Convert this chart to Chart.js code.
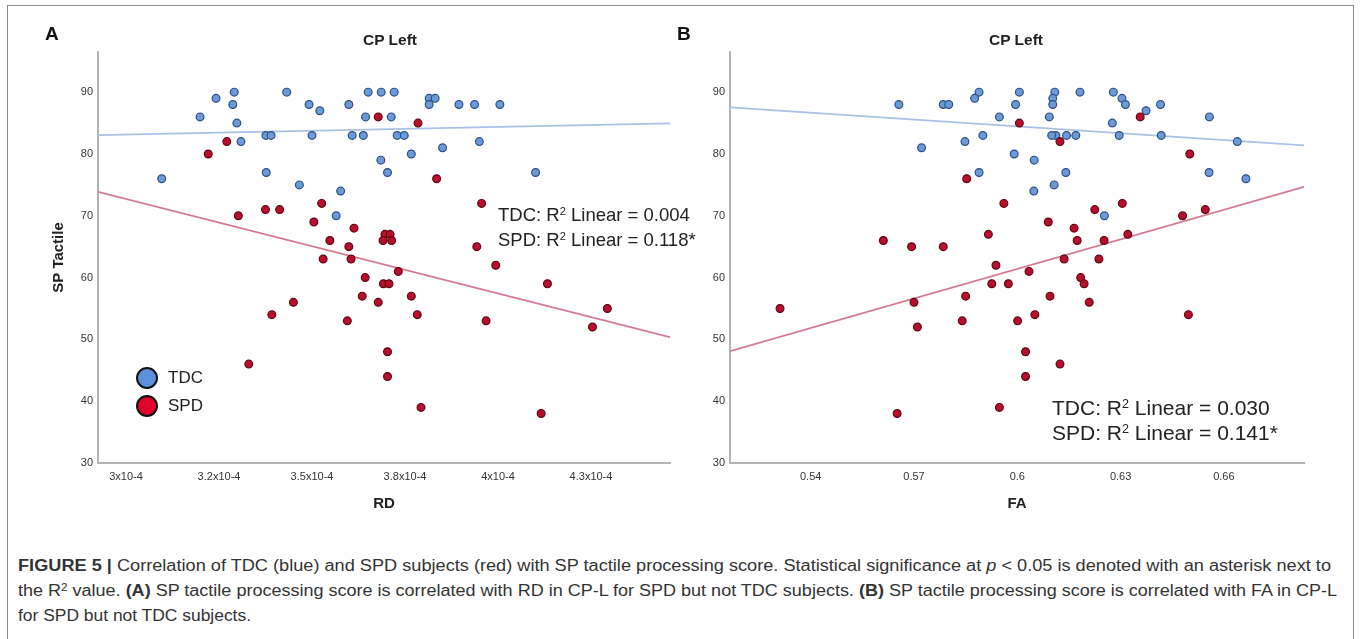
<!DOCTYPE html>
<html>
<head>
<meta charset="utf-8">
<script src="https://cdn.jsdelivr.net/npm/chart.js@4.4.0/dist/chart.umd.min.js"></script>
<style>
html,body{margin:0;padding:0;background:#fff;width:1360px;height:639px;overflow:hidden;font-family:"Liberation Sans",Arial,sans-serif;}
#frame{position:absolute;left:7px;top:5px;width:1347px;height:700px;border:1px solid #8c8c8c;box-sizing:border-box;}
canvas{position:absolute;top:0;}
#cA{left:0;}
#cB{left:680px;}
.abs{position:absolute;white-space:nowrap;}
.panel{font-weight:bold;font-size:19px;color:#111;}
.ttl{font-weight:bold;font-size:15.5px;color:#222;transform:translate(-50%,-50%);}
.ann{color:#222;line-height:1;}
.ann sup{font-size:0.6em;vertical-align:0.55em;line-height:0;}
.dot{position:absolute;width:18px;height:18px;border-radius:50%;border:2px solid #111;box-sizing:content-box;transform:translate(-50%,-50%);}
.legt{font-size:17px;color:#222;transform:translateY(-50%);}
.cap{position:absolute;left:18px;white-space:nowrap;font-family:"Liberation Sans Narrow","Liberation Sans",Arial,sans-serif;font-size:16px;color:#333;transform-origin:0 50%;line-height:1;}
.cap sup{font-size:0.65em;vertical-align:0.5em;line-height:0;}
</style>
</head>
<body>
<div id="frame"></div>
<canvas id="cA" width="680" height="530"></canvas>
<canvas id="cB" width="680" height="530"></canvas>

<div class="abs panel" style="left:45px;top:23px;">A</div>
<div class="abs panel" style="left:677px;top:23px;">B</div>
<div class="abs ttl" style="left:390px;top:40px;">CP Left</div>
<div class="abs ttl" style="left:1016px;top:40px;">CP Left</div>

<div class="abs ann" style="left:498px;top:206px;font-size:18.5px;">TDC: R<sup>2</sup> Linear = 0.004</div>
<div class="abs ann" style="left:498px;top:231px;font-size:18.5px;">SPD: R<sup>2</sup> Linear = 0.118*</div>
<div class="abs ann" style="left:1052px;top:397px;font-size:21px;">TDC: R<sup>2</sup> Linear = 0.030</div>
<div class="abs ann" style="left:1052px;top:422px;font-size:21px;">SPD: R<sup>2</sup> Linear = 0.141*</div>

<div class="dot" style="left:147px;top:378px;background:#5d90dc;"></div>
<div class="abs legt" style="left:168px;top:378px;">TDC</div>
<div class="dot" style="left:147px;top:406px;background:#e0002b;"></div>
<div class="abs legt" style="left:168px;top:406px;">SPD</div>

<div class="cap" id="cap1" style="top:558px;"><b>FIGURE 5 |</b> Correlation of TDC (blue) and SPD subjects (red) with SP tactile processing score. Statistical significance at <i>p</i> &lt; 0.05 is denoted with an asterisk next to</div>
<div class="cap" id="cap2" style="top:583px;">the R<sup>2</sup> value. <b>(A)</b> SP tactile processing score is correlated with RD in CP-L for SPD but not TDC subjects. <b>(B)</b> SP tactile processing score is correlated with FA in CP-L</div>
<div class="cap" id="cap3" style="top:608px;">for SPD but not TDC subjects.</div>

<script>
// ---- Panel A: RD (x10^-4) vs SP Tactile ----
const rdTDC = [3.096,3.199,3.242,3.291,3.287,3.298,3.309,3.376,3.390,3.377,3.432,3.466,3.492,3.521,3.500,3.577,3.565,3.599,3.608,3.638,3.644,3.651,3.686,3.685,3.703,3.721,3.713,3.815,3.831,3.815,3.895,3.937,4.005,3.729,3.748,3.851,3.767,3.950,4.101];
const spTDC_A = [76,86,89,90,88,85,82,83,83,77,90,75,88,87,83,74,70,88,83,83,86,90,90,79,77,90,86,89,89,88,88,88,88,83,83,81,80,82,77];
const rdSPD = [3.678,3.271,3.221,3.302,3.375,3.413,3.526,3.505,3.613,3.548,3.599,3.530,3.605,3.696,3.710,3.691,3.714,3.643,3.692,3.707,3.635,3.678,3.450,3.392,3.595,3.330,3.703,3.703,3.943,3.994,3.732,3.767,3.783,4.133,3.968,4.294,4.254,3.793,4.116,3.785,3.835,3.956];
const spSPD_A = [86,82,80,70,71,71,72,69,68,66,65,63,63,67,67,66,66,60,59,59,57,56,56,54,53,46,48,44,65,62,61,57,54,59,53,55,52,39,38,85,76,72];
const rdRange = [2.9247, 4.4624];
const fitTDC_A = [83.06, 84.96];   // fit line values at rdRange ends
const fitSPD_A = [73.87, 50.37];
const rdTicks = [3.0, 3.25, 3.5, 3.75, 4.0, 4.25];
const rdTickLabels = ["3x10-4","3.2x10-4","3.5x10-4","3.8x10-4","4x10-4","4.3x10-4"];

// ---- Panel B: FA vs SP Tactile ----
const faTDC = [0.5656,0.5722,0.5785,0.5801,0.5848,0.5889,0.5876,0.5900,0.5889,0.5948,0.5991,0.5995,0.6006,0.6109,0.6103,0.6103,0.6182,0.6279,0.6304,0.6314,0.6374,0.6416,0.6093,0.6276,0.6112,0.6143,0.6170,0.6296,0.6418,0.6558,0.6639,0.6049,0.6141,0.6107,0.6048,0.6557,0.6664,0.6253,0.6100];
const spTDC_B = [88,81,88,88,82,90,89,83,77,86,80,88,90,90,89,88,90,90,89,88,87,88,86,85,83,83,83,83,83,86,82,79,77,75,74,77,76,70,83];
const faSPD = [0.6006,0.5853,0.5961,0.5916,0.5611,0.6124,0.6357,0.6501,0.6090,0.6165,0.6225,0.6305,0.6480,0.6546,0.6321,0.6174,0.6252,0.6136,0.6237,0.6034,0.5974,0.6184,0.6194,0.6095,0.6209,0.6001,0.6051,0.6497,0.6024,0.6024,0.6124,0.5948,0.5693,0.5785,0.5938,0.5926,0.5850,0.5700,0.5311,0.5840,0.5710,0.5651];
const spSPD_B = [85,76,72,67,66,82,86,80,69,68,71,72,70,71,67,66,66,63,63,61,59,60,59,57,56,53,54,54,48,44,46,39,65,65,62,59,57,56,55,53,52,38];
const faRange = [0.51656, 0.68327];
const fitTDC_B = [87.55, 81.39];
const fitSPD_B = [48.10, 74.68];
const faTicks = [0.54, 0.57, 0.60, 0.63, 0.66];
const faTickLabels = ["0.54","0.57","0.6","0.63","0.66"];

// ---- shared y axis ----
const spRange = [30, 96.5];
const spTicks = [30,40,50,60,70,80,90];
const spTickLabels = ["30","40","50","60","70","80","90"];

const FONT = '"Liberation Sans", Arial, sans-serif';
const pts = (xs, ys) => xs.map((x, i) => ({x: x, y: ys[i]}));

function makeChart(id, c) {
  return new Chart(document.getElementById(id), {
    type: 'scatter',
    data: {
      datasets: [
        {label: 'SPD', data: pts(c.xSPD, c.ySPD), backgroundColor: '#b8102c', borderColor: '#5e0614',
         borderWidth: 1.2, pointRadius: 3.9, order: 1},
        {label: 'TDC', data: pts(c.xTDC, c.yTDC), backgroundColor: '#6c9ad6', borderColor: '#2b4f88',
         borderWidth: 1.2, pointRadius: 3.9, order: 2},
        {label: 'TDC fit', type: 'line', showLine: true, data: [{x: c.xr[0], y: c.fitT[0]}, {x: c.xr[1], y: c.fitT[1]}],
         borderColor: '#a8c2e6', borderWidth: 1.8, pointRadius: 0, fill: false, order: 4},
        {label: 'SPD fit', type: 'line', showLine: true, data: [{x: c.xr[0], y: c.fitS[0]}, {x: c.xr[1], y: c.fitS[1]}],
         borderColor: '#d47a90', borderWidth: 1.8, pointRadius: 0, fill: false, order: 3}
      ]
    },
    options: {
      responsive: false, animation: false, events: [],
      layout: {padding: {top: 52, right: c.padR, left: 0, bottom: 0}},
      plugins: {legend: {display: false}, tooltip: {enabled: false}, title: {display: false}},
      scales: {
        x: {
          type: 'linear', min: c.xr[0], max: c.xr[1],
          grid: {display: false, drawTicks: false},
          border: {display: true, color: '#b3b3b3', width: 2},
          afterBuildTicks: s => { s.ticks = c.xt.map(v => ({value: v})); },
          afterFit: s => { s.height = 67; },
          ticks: {autoSkip: false, maxRotation: 0, padding: 7, color: '#333', font: {family: FONT, size: 11},
                  callback: (v, i) => c.xl[i]},
          title: {display: true, text: c.xTitle, color: '#222', font: {family: FONT, size: 15, weight: 'bold'},
                  padding: {top: 0, bottom: 17}}
        },
        y: {
          type: 'linear', min: spRange[0], max: spRange[1],
          grid: {display: false, drawTicks: false},
          border: {display: true, color: '#b3b3b3', width: 2},
          afterBuildTicks: s => { s.ticks = spTicks.map(v => ({value: v})); },
          afterFit: s => { s.width = c.yW; },
          ticks: {padding: 5, color: '#333', font: {family: FONT, size: 11},
                  callback: (v, i) => spTickLabels[i]},
          title: {display: c.yTitle !== '', text: c.yTitle, color: '#222', font: {family: FONT, size: 15, weight: 'bold'},
                  padding: {top: 50, bottom: 0}}
        }
      }
    }
  });
}

makeChart('cA', {xTDC: rdTDC, yTDC: spTDC_A, xSPD: rdSPD, ySPD: spSPD_A, xr: rdRange, fitT: fitTDC_A, fitS: fitSPD_A,
  xt: rdTicks, xl: rdTickLabels, xTitle: 'RD', yTitle: 'SP Tactile', yW: 98, padR: 10});
makeChart('cB', {xTDC: faTDC, yTDC: spTDC_B, xSPD: faSPD, ySPD: spSPD_B, xr: faRange, fitT: fitTDC_B, fitS: fitSPD_B,
  xt: faTicks, xl: faTickLabels, xTitle: 'FA', yTitle: '', yW: 50, padR: 56});

// fit caption lines to the reference widths
const capTargets = {cap1: 1313, cap2: 1319, cap3: 233};
for (const id in capTargets) {
  const el = document.getElementById(id);
  const w = el.getBoundingClientRect().width;
  el.style.transform = 'scaleX(' + (capTargets[id] / w) + ')';
}
</script>
</body>
</html>
